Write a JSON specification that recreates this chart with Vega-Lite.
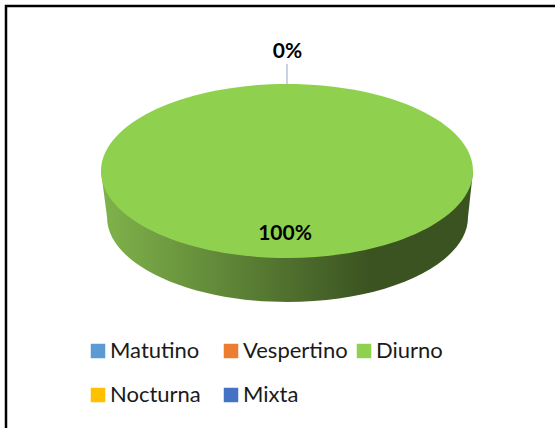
{"$schema":"https://vega.github.io/schema/vega-lite/v6.json","width":555,"height":428,"padding":0,"autosize":{"type":"none"},"background":"white","config":{"view":{"stroke":null}},"data":{"values":[{"turno":"Matutino","porcentaje":0},{"turno":"Vespertino","porcentaje":0},{"turno":"Diurno","porcentaje":1},{"turno":"Nocturna","porcentaje":0},{"turno":"Mixta","porcentaje":0}]},"layer":[{"transform":[{"filter":"datum.turno==='Diurno'"}],"mark":{"type":"point","shape":"M-271.5,214 L-271.5,-208 L277.5,-208","filled":false,"size":4,"stroke":"#000000","strokeWidth":2.5,"opacity":1}},{"transform":[{"filter":"datum.turno==='Diurno'"}],"mark":{"type":"point","shape":"M-176.5,-43 L-170.5,3 A180.5,85 0 0,0 190.5,3 L195.5,-43 Z","filled":true,"size":4,"opacity":1,"strokeWidth":0,"color":{"gradient":"linear","x1":0,"y1":0,"x2":1,"y2":0,"stops":[{"offset":0,"color":"#80B34B"},{"offset":0.72,"color":"#3B5321"},{"offset":1,"color":"#3B5321"}]}}},{"transform":[{"filter":"datum.turno==='Diurno'"}],"mark":{"type":"point","shape":"M-176.5,-43 A186,87 0 1,1 195.5,-43 A186,87 0 1,1 -176.5,-43 Z","filled":true,"size":4,"opacity":1,"strokeWidth":0},"encoding":{"color":{"field":"turno","type":"nominal","sort":null,"scale":{"domain":["Matutino","Vespertino","Diurno","Nocturna","Mixta"],"range":["#5B9BD5","#ED7D31","#8FD14F","#FFC000","#4472C4"]},"legend":{"title":null,"orient":"none","legendX":87,"legendY":340,"direction":"horizontal","columns":3,"gridAlign":"all","columnPadding":5,"rowPadding":22,"symbolType":"square","symbolSize":210,"symbolStrokeWidth":0,"symbolOpacity":1,"labelFont":"Lato","labelFontSize":22,"labelColor":"#1a1a1a","labelOffset":1,"labelLimit":200}}}},{"transform":[{"filter":"datum.turno==='Matutino'"}],"mark":{"type":"point","shape":"M9.5,-150 L9.5,-130","filled":false,"size":4,"stroke":"#B8C4DA","strokeWidth":1.5,"opacity":1}},{"transform":[{"filter":"datum.turno==='Matutino'"}],"mark":{"type":"text","font":"Lato","fontWeight":"bold","fontSize":21,"color":"#000000","dx":10,"dy":-162,"align":"center","baseline":"middle"},"encoding":{"text":{"field":"porcentaje","type":"quantitative","format":".0%"}}},{"transform":[{"filter":"datum.turno==='Diurno'"}],"mark":{"type":"text","font":"Lato","fontWeight":"bold","fontSize":21,"color":"#000000","dx":7.5,"dy":20,"align":"center","baseline":"middle"},"encoding":{"text":{"field":"porcentaje","type":"quantitative","format":".0%"}}}]}
